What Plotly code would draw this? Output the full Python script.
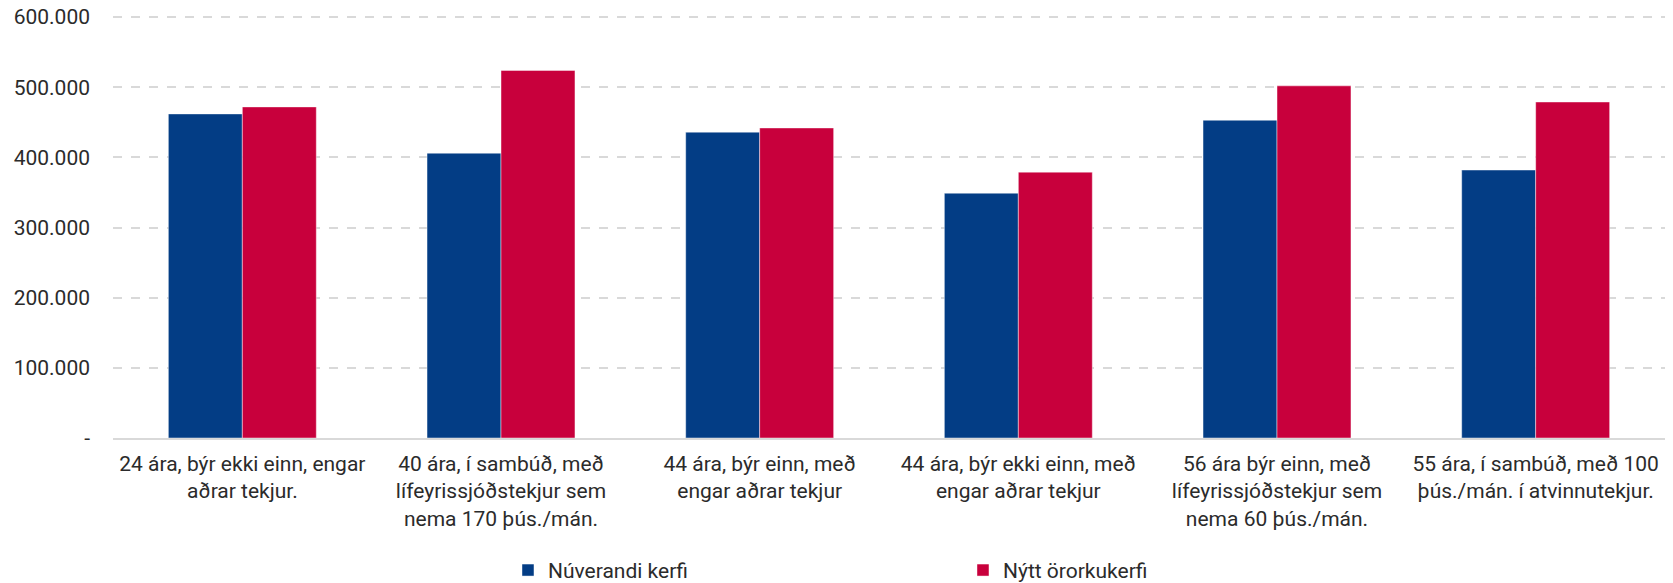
import plotly.graph_objects as go

categories = [
    "24 ára, býr ekki einn, engar<br>aðrar tekjur.",
    "40 ára, í sambúð, með<br>lífeyrissjóðstekjur sem<br>nema 170 þús./mán.",
    "44 ára, býr einn, með<br>engar aðrar tekjur",
    "44 ára, býr ekki einn, með<br>engar aðrar tekjur",
    "56 ára býr einn, með<br>lífeyrissjóðstekjur sem<br>nema 60 þús./mán.",
    "55 ára, í sambúð, með 100<br>þús./mán. í atvinnutekjur.",
]
series_names = ["Núverandi kerfi", "Nýtt örorkukerfi"]
nuverandi = [462000, 406000, 436000, 349000, 453000, 382000]
nytt = [472000, 524000, 442000, 379000, 502000, 479000]
tick_vals = [0, 100000, 200000, 300000, 400000, 500000, 600000]
tick_text = ["-", "100.000", "200.000", "300.000", "400.000", "500.000", "600.000"]

FONT = "Roboto, sans-serif"
TXT = "#2b2b2b"

fig = go.Figure()
fig.add_trace(go.Bar(x=categories, y=nuverandi, name=series_names[0],
                     marker=dict(color="#033D85", line=dict(color="rgba(255,255,255,0.6)", width=0.75))))
fig.add_trace(go.Bar(x=categories, y=nytt, name=series_names[1],
                     marker=dict(color="#C8003C", line=dict(color="rgba(255,255,255,0.6)", width=0.75))))

fig.update_layout(
    width=1665, height=575,
    margin=dict(l=105, r=8, t=7.4, b=144.5, autoexpand=False),
    paper_bgcolor="white", plot_bgcolor="white",
    barmode="group", bargap=0.428, bargroupgap=0,
    font=dict(family=FONT, size=21, color=TXT),
    showlegend=True,
    legend=dict(orientation="h", x=0.2545, xanchor="left", y=-0.313, yanchor="middle",
                entrywidth=410, entrywidthmode="pixels",
                font=dict(family=FONT, size=21, color=TXT), traceorder="normal"),
    xaxis=dict(showgrid=False, showline=True, linecolor="#d9d9d9", linewidth=1.5,
               ticks="", tickfont=dict(family=FONT, size=21, color=TXT), tickangle=0,
               ticklabelstandoff=6, automargin=False),
    yaxis=dict(range=[0, 603000], tickvals=tick_vals, ticktext=tick_text,
               showgrid=True, gridcolor="#d9d9d9", griddash="dash", gridwidth=1.5,
               zeroline=False, showline=False, ticks="", ticklabelstandoff=22,
               automargin=False, ticklabeloverflow="allow",
               tickfont=dict(family=FONT, size=21, color=TXT)),
)
fig.write_html("out.html")
